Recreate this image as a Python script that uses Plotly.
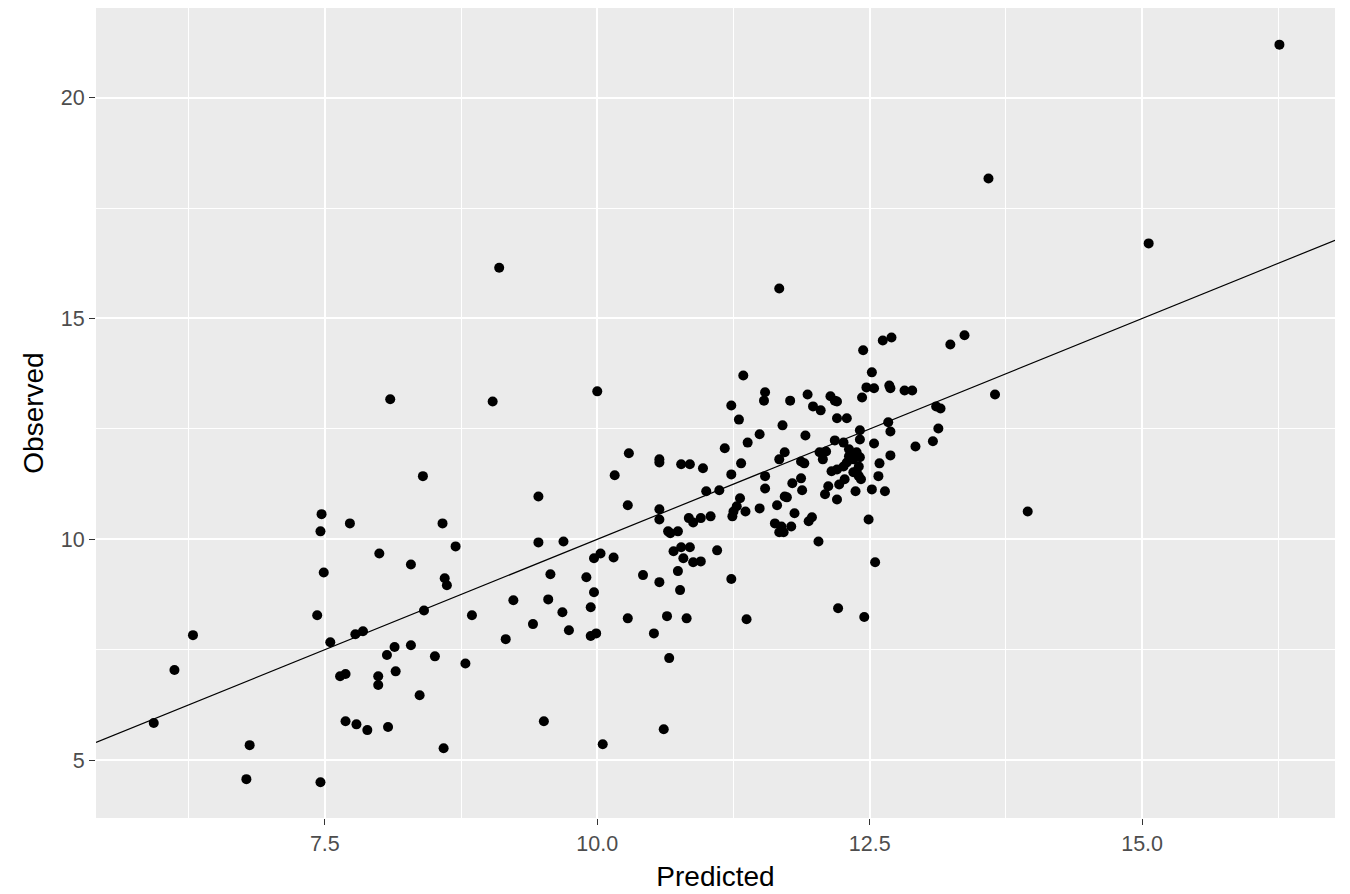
import plotly.graph_objects as go

# Predicted (x) and Observed (y) values
predicted = [
    5.93, 6.12, 6.29, 6.81, 6.78, 7.46, 7.49, 7.43, 7.55, 7.78,
    7.85, 8.29, 8.14, 8.29, 8.07, 7.64, 7.69, 7.99, 7.99, 8.15,
    7.69, 7.79, 7.89, 8.08, 8.37, 8.10, 9.04, 10.00, 8.40, 9.46,
    10.16, 7.47, 7.46, 7.73, 8.58, 8.70, 8.00, 8.60, 8.62, 9.46,
    9.69, 9.57, 9.23, 9.55, 9.90, 9.97, 10.03, 10.15, 9.97, 9.94,
    9.68, 8.41, 8.85, 10.29, 10.57, 10.57, 10.77, 10.85, 10.97, 10.28,
    10.57, 10.57, 11.00, 11.12, 10.84, 10.88, 10.95, 11.04, 10.65, 10.67,
    10.74, 10.70, 10.77, 10.85, 10.79, 10.88, 10.95, 11.10, 10.74, 10.76,
    10.42, 10.57, 9.41, 9.16, 9.74, 9.94, 9.99, 10.28, 10.52, 10.64,
    10.82, 10.66, 9.51, 10.05, 10.61, 11.34, 11.54, 11.53, 11.23, 11.30,
    11.77, 11.93, 11.98, 12.05, 12.14, 12.18, 12.20, 12.20, 12.29, 11.70,
    11.49, 11.91, 11.17, 11.38, 11.32, 11.23, 11.72, 11.67, 11.54, 11.54,
    11.31, 11.72, 11.79, 11.87, 11.88, 11.87, 11.90, 12.04, 12.10, 12.07,
    12.18, 12.26, 12.41, 12.41, 12.31, 12.38, 12.31, 12.35, 12.41, 12.29,
    12.26, 12.40, 12.38, 12.15, 12.20, 12.35, 12.40, 12.42, 12.27, 12.22,
    12.12, 12.09, 12.20, 12.37, 12.52, 12.64, 11.28, 11.25, 11.24, 11.36,
    11.49, 11.65, 11.74, 11.81, 11.63, 11.69, 11.67, 11.71, 11.78, 11.97,
    11.94, 12.03, 11.23, 11.37, 12.21, 12.44, 12.62, 12.70, 13.24, 13.37,
    12.52, 12.47, 12.54, 12.68, 12.69, 12.82, 12.89, 12.43, 13.11, 13.15,
    12.67, 12.69, 13.13, 13.08, 12.92, 12.54, 12.69, 12.59, 12.58, 12.49,
    12.55, 12.45, 9.10, 11.67, 13.59, 15.06, 16.26, 13.65, 13.95, 8.51,
    8.79, 8.59,
]
observed = [
    5.84, 7.04, 7.83, 5.34, 4.57, 4.50, 9.25, 8.28, 7.67, 7.85,
    7.92, 9.43, 7.56, 7.60, 7.38, 6.90, 6.95, 6.90, 6.70, 7.01,
    5.88, 5.81, 5.68, 5.75, 6.47, 13.17, 13.12, 13.35, 11.43, 10.97,
    11.45, 10.57, 10.18, 10.36, 10.36, 9.84, 9.68, 9.12, 8.96, 9.93,
    9.95, 9.21, 8.62, 8.64, 9.14, 9.57, 9.68, 9.59, 8.80, 8.46,
    8.35, 8.39, 8.28, 11.95, 11.81, 11.74, 11.70, 11.70, 11.61, 10.77,
    10.68, 10.45, 11.09, 11.11, 10.48, 10.38, 10.48, 10.52, 10.18, 10.14,
    10.18, 9.73, 9.82, 9.82, 9.57, 9.48, 9.50, 9.75, 9.28, 8.85,
    9.19, 9.03, 8.08, 7.74, 7.94, 7.81, 7.87, 8.21, 7.87, 8.26,
    8.21, 7.31, 5.88, 5.36, 5.70, 13.71, 13.33, 13.14, 13.03, 12.71,
    13.14, 13.28, 13.01, 12.92, 13.24, 13.14, 13.12, 12.74, 12.74, 12.58,
    12.38, 12.35, 12.06, 12.19, 11.72, 11.47, 11.97, 11.81, 11.43, 11.15,
    10.93, 10.97, 11.27, 11.38, 11.11, 11.76, 11.72, 11.97, 11.99, 11.81,
    12.24, 12.19, 12.47, 12.26, 12.04, 11.97, 11.88, 11.81, 11.86, 11.74,
    11.65, 11.65, 11.54, 11.54, 11.58, 11.52, 11.43, 11.36, 11.36, 11.24,
    11.20, 11.02, 10.90, 11.09, 11.13, 11.09, 10.75, 10.63, 10.52, 10.63,
    10.70, 10.77, 10.95, 10.59, 10.36, 10.29, 10.16, 10.16, 10.29, 10.50,
    10.41, 9.95, 9.10, 8.19, 8.44, 14.28, 14.50, 14.57, 14.41, 14.62,
    13.78, 13.44, 13.42, 13.48, 13.42, 13.37, 13.37, 13.21, 13.01, 12.96,
    12.65, 12.44, 12.51, 12.22, 12.10, 12.17, 11.90, 11.72, 11.43, 10.45,
    9.48, 8.24, 16.15, 15.68, 18.17, 16.70, 21.20, 13.28, 10.63, 7.35,
    7.19, 5.27,
]

x_tickvals = [7.5, 10.0, 12.5, 15.0]
x_ticktext = ["7.5", "10.0", "12.5", "15.0"]
y_tickvals = [5, 10, 15, 20]
y_ticktext = ["5", "10", "15", "20"]

# reference line y = intercept + slope * x
intercept = 0.0
slope = 1.0

x_range = [5.40, 16.77]
y_range = [3.69, 22.03]

fig = go.Figure()
fig.add_trace(go.Scatter(
    x=predicted, y=observed, mode="markers",
    marker=dict(color="black", size=10, line=dict(width=0)),
    showlegend=False, hoverinfo="x+y",
))
fig.add_trace(go.Scatter(
    x=x_range, y=[intercept + slope * v for v in x_range], mode="lines",
    line=dict(color="black", width=1.2),
    showlegend=False, hoverinfo="skip",
))

axis_common = dict(
    showgrid=True, gridcolor="white", gridwidth=1.5,
    zeroline=False, showline=False,
    ticks="outside", ticklen=6, tickwidth=1.1, tickcolor="#333333",
    tickfont=dict(family="Liberation Sans, Arial, sans-serif", size=21.5, color="#4D4D4D"),
    tickmode="array",
)

# the page body has an 8px margin, so the figure is sized to fit the window
fig.update_layout(
    width=1342, height=886,
    paper_bgcolor="white", plot_bgcolor="#EBEBEB",
    margin=dict(l=88, r=15, t=0, b=76),
    font=dict(family="Liberation Sans, Arial, sans-serif"),
    xaxis=dict(
        **axis_common, range=x_range,
        tickvals=x_tickvals, ticktext=x_ticktext,
        minor=dict(tickmode="array", tickvals=[6.25, 8.75, 11.25, 13.75, 16.25],
                   showgrid=True, gridcolor="white", gridwidth=0.75, ticks=""),
        title=dict(text="Predicted", font=dict(size=28, color="black"), standoff=11),
    ),
    yaxis=dict(
        **axis_common, range=y_range,
        tickvals=y_tickvals, ticktext=y_ticktext,
        minor=dict(tickmode="array", tickvals=[7.5, 12.5, 17.5],
                   showgrid=True, gridcolor="white", gridwidth=0.75, ticks=""),
        title=dict(text="Observed", font=dict(size=28, color="black"), standoff=8),
    ),
)

fig.write_html("out.html")
